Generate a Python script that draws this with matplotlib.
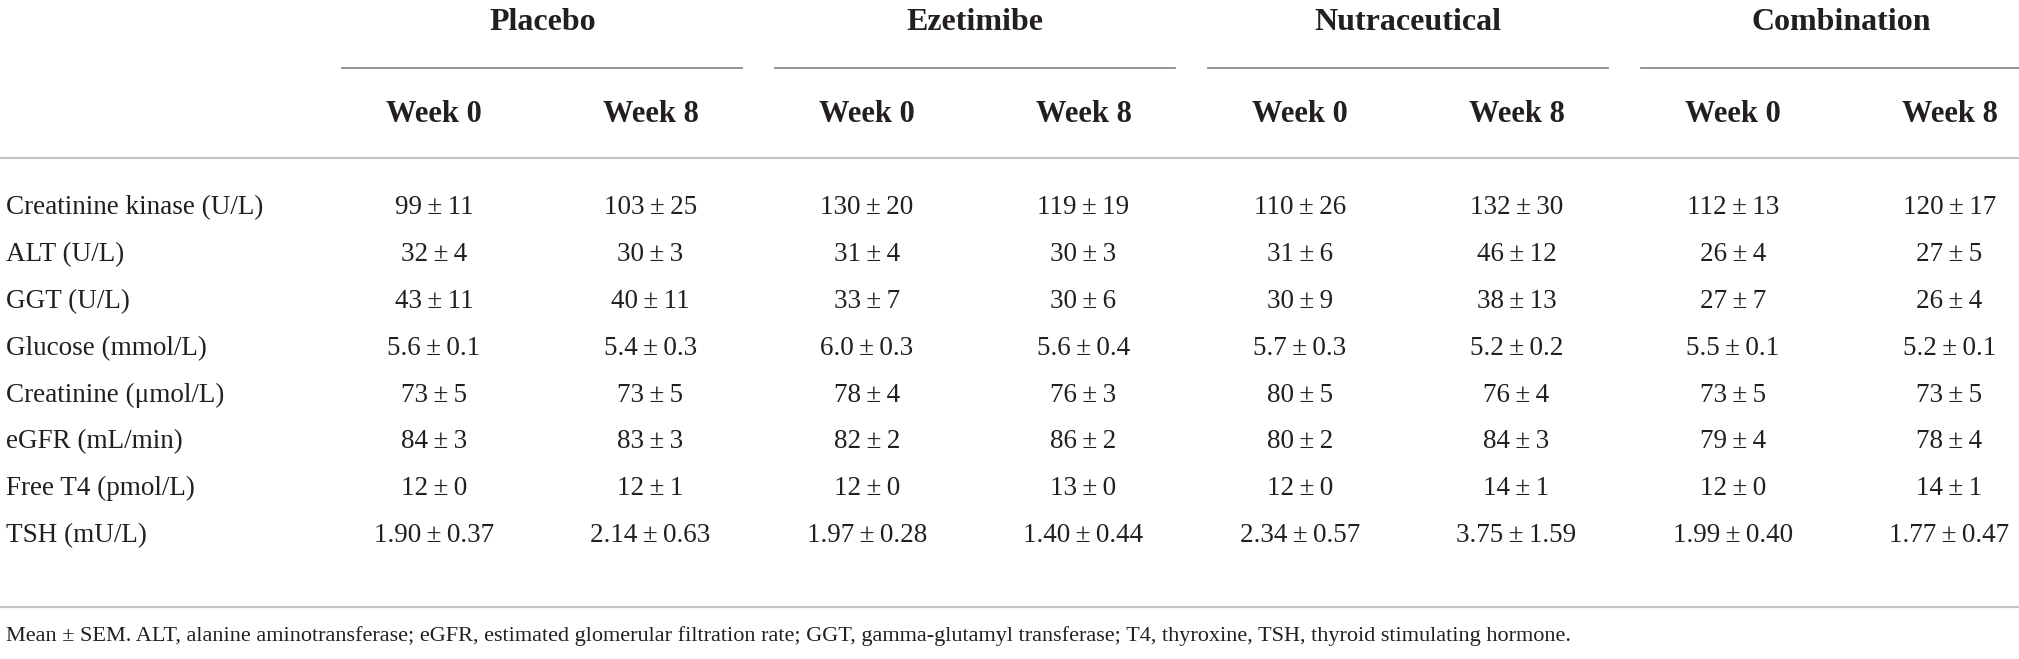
#!/usr/bin/env python
# Table of safety parameters, week 0 vs week 8 per group
import matplotlib
matplotlib.use("Agg")
import matplotlib.pyplot as plt

groups = ["Placebo", "Ezetimibe", "Nutraceutical", "Combination"]
weeks = ["Week 0", "Week 8"]
params = ["Creatinine kinase (U/L)", "ALT (U/L)", "GGT (U/L)", "Glucose (mmol/L)",
          "Creatinine (\u03bcmol/L)", "eGFR (mL/min)", "Free T4 (pmol/L)", "TSH (mU/L)"]

# mean and SEM, columns: P0 P8 E0 E8 N0 N8 C0 C8
means = [
    ["99", "103", "130", "119", "110", "132", "112", "120"],
    ["32", "30", "31", "30", "31", "46", "26", "27"],
    ["43", "40", "33", "30", "30", "38", "27", "26"],
    ["5.6", "5.4", "6.0", "5.6", "5.7", "5.2", "5.5", "5.2"],
    ["73", "73", "78", "76", "80", "76", "73", "73"],
    ["84", "83", "82", "86", "80", "84", "79", "78"],
    ["12", "12", "12", "13", "12", "14", "12", "14"],
    ["1.90", "2.14", "1.97", "1.40", "2.34", "3.75", "1.99", "1.77"],
]
sems = [
    ["11", "25", "20", "19", "26", "30", "13", "17"],
    ["4", "3", "4", "3", "6", "12", "4", "5"],
    ["11", "11", "7", "6", "9", "13", "7", "4"],
    ["0.1", "0.3", "0.3", "0.4", "0.3", "0.2", "0.1", "0.1"],
    ["5", "5", "4", "3", "5", "4", "5", "5"],
    ["3", "3", "2", "2", "2", "3", "4", "4"],
    ["0", "1", "0", "0", "0", "1", "0", "1"],
    ["0.37", "0.63", "0.28", "0.44", "0.57", "1.59", "0.40", "0.47"],
]
footnote = ("Mean \u00b1 SEM. ALT, alanine aminotransferase; eGFR, estimated glomerular "
            "filtration rate; GGT, gamma-glutamyl transferase; T4, thyroxine, TSH, "
            "thyroid stimulating hormone.")

W, H = 2019, 659
fig = plt.figure(figsize=(W / 100, H / 100), dpi=100)
ax = fig.add_axes([0, 0, 1, 1])
ax.set_xlim(0, W)
ax.set_ylim(H, 0)
ax.axis("off")

plt.rcParams["font.family"] = ["Liberation Serif", "DejaVu Serif"]
ink = "#231f20"
pm = "\u2009\u00b1\u2009"

# layout
col0 = 434
colstep = 216.5
row0 = 208
rowstep = 46.8
label_x = 6

for g, name in enumerate(groups):
    gx = col0 + colstep * (2 * g + 0.5)
    ax.text(gx, 23, name, ha="center", va="center", fontsize=23, fontweight="bold", color=ink)
    ax.plot([gx - 200, gx + 200], [68, 68], color="#8a8a8a", lw=1.3)
    for k, wk in enumerate(weeks):
        cx = col0 + colstep * (2 * g + k)
        ax.text(cx, 115, wk, ha="center", va="center", fontsize=22, fontweight="bold", color=ink)

ax.plot([0, W], [158, 158], color="#c4c4c4", lw=1.6)

for i, p in enumerate(params):
    y = row0 + rowstep * i
    ax.text(label_x, y, p, ha="left", va="center", fontsize=19.5, color=ink)
    for j in range(8):
        cx = col0 + colstep * j
        ax.text(cx, y, means[i][j] + pm + sems[i][j], ha="center", va="center",
                fontsize=19.5, color=ink)

ax.plot([0, W], [607, 607], color="#c4c4c4", lw=1.6)
ax.text(label_x, 636, footnote, ha="left", va="center", fontsize=16, color=ink)

fig.savefig("out.png", dpi=100, facecolor="white")
